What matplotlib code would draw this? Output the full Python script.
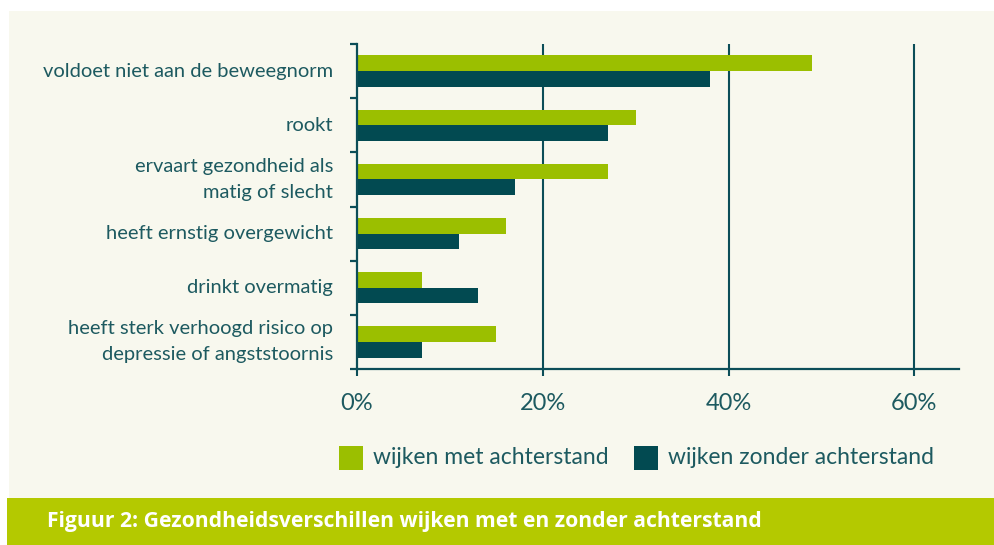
import matplotlib.pyplot as plt
from matplotlib.patches import Rectangle
import numpy as np

plt.rcParams['font.family'] = ['Lato', 'DejaVu Sans']

categories = ['voldoet niet aan de beweegnorm',
              'rookt',
              'ervaart gezondheid als\nmatig of slecht',
              'heeft ernstig overgewicht',
              'drinkt overmatig',
              'heeft sterk verhoogd risico op\ndepressie of angststoornis']
met_achterstand = [49, 30, 27, 16, 7, 15]
zonder_achterstand = [38, 27, 17, 11, 13, 7]
series_names = ['wijken met achterstand', 'wijken zonder achterstand']
xticks = [0, 20, 40, 60]
title = 'Figuur 2: Gezondheidsverschillen wijken met en zonder achterstand'

green = '#9bbf00'
dark = '#024a51'
text_col = '#1d5a60'
line_col = '#0c4e58'
cream = '#f8f8ee'
banner = '#b4c900'

W, H = 995, 545
fig = plt.figure(figsize=(W / 100, H / 100), dpi=100)
fig.patch.set_facecolor('white')

# background panels (pixel coords -> figure fraction)
def px(x0, y0, x1, y1):
    return (x0 / W, 1 - y1 / H), (x1 - x0) / W, (y1 - y0) / H

xy, w, h = px(9, 11, 995, 498)
fig.add_artist(Rectangle(xy, w, h, transform=fig.transFigure, facecolor=cream, edgecolor='none', zorder=0))
xy, w, h = px(7, 498, 995, 545)
fig.add_artist(Rectangle(xy, w, h, transform=fig.transFigure, facecolor=banner, edgecolor='none', zorder=0))
fig.text(47 / W, 1 - 521 / H, title, color='white', fontsize=15.2, fontweight='bold',
         family=['Open Sans', 'DejaVu Sans'], va='center', ha='left')

# axes
left, right, top, bottom = 357, 959, 44, 369
ax = fig.add_axes([left / W, 1 - bottom / H, (right - left) / W, (bottom - top) / H])
ax.set_facecolor('none')

y = np.arange(len(categories))
bh = 0.29
ax.barh(y - bh / 2, met_achterstand, height=bh, color=green, zorder=3)
ax.barh(y + bh / 2, zonder_achterstand, height=bh, color=dark, zorder=3)

ax.set_xlim(0, (right - left) / 9.29)
ax.set_ylim(len(categories) - 0.5, -0.5)

for v in xticks[1:]:
    ax.axvline(v, color=line_col, lw=1.5, zorder=2)

for s in ['top', 'right']:
    ax.spines[s].set_visible(False)
for s in ['left', 'bottom']:
    ax.spines[s].set_color(line_col)
    ax.spines[s].set_linewidth(1.6)
    ax.spines[s].set_zorder(4)

ax.set_xticks(xticks)
ax.set_xticklabels([f'{v}%' for v in xticks])
ax.tick_params(axis='x', direction='out', length=5, width=1.5, color=line_col,
               labelcolor=text_col, labelsize=17, pad=12)

ax.set_yticks(np.arange(len(categories) + 1) - 0.5)
ax.set_yticklabels([])
ax.tick_params(axis='y', direction='out', length=5, width=1.6, color=line_col)
for i, c in enumerate(categories):
    ax.annotate(c, xy=(0, i), xycoords=('axes fraction', 'data'), xytext=(-24, 0),
                textcoords='offset pixels', ha='right', va='center', color=text_col,
                fontsize=14.5, linespacing=1.65)

# legend
for (x0, x1), name, col in zip([(339, 363), (634, 658)], series_names, [green, dark]):
    xy, w, h = px(x0, 446, x1, 470)
    fig.add_artist(Rectangle(xy, w, h, transform=fig.transFigure, facecolor=col, edgecolor='none'))
    fig.text((x1 + 10) / W, 1 - 458 / H, name, color=text_col, fontsize=16.5, va='center', ha='left')

fig.savefig('out.png', dpi=100, facecolor=fig.get_facecolor())
